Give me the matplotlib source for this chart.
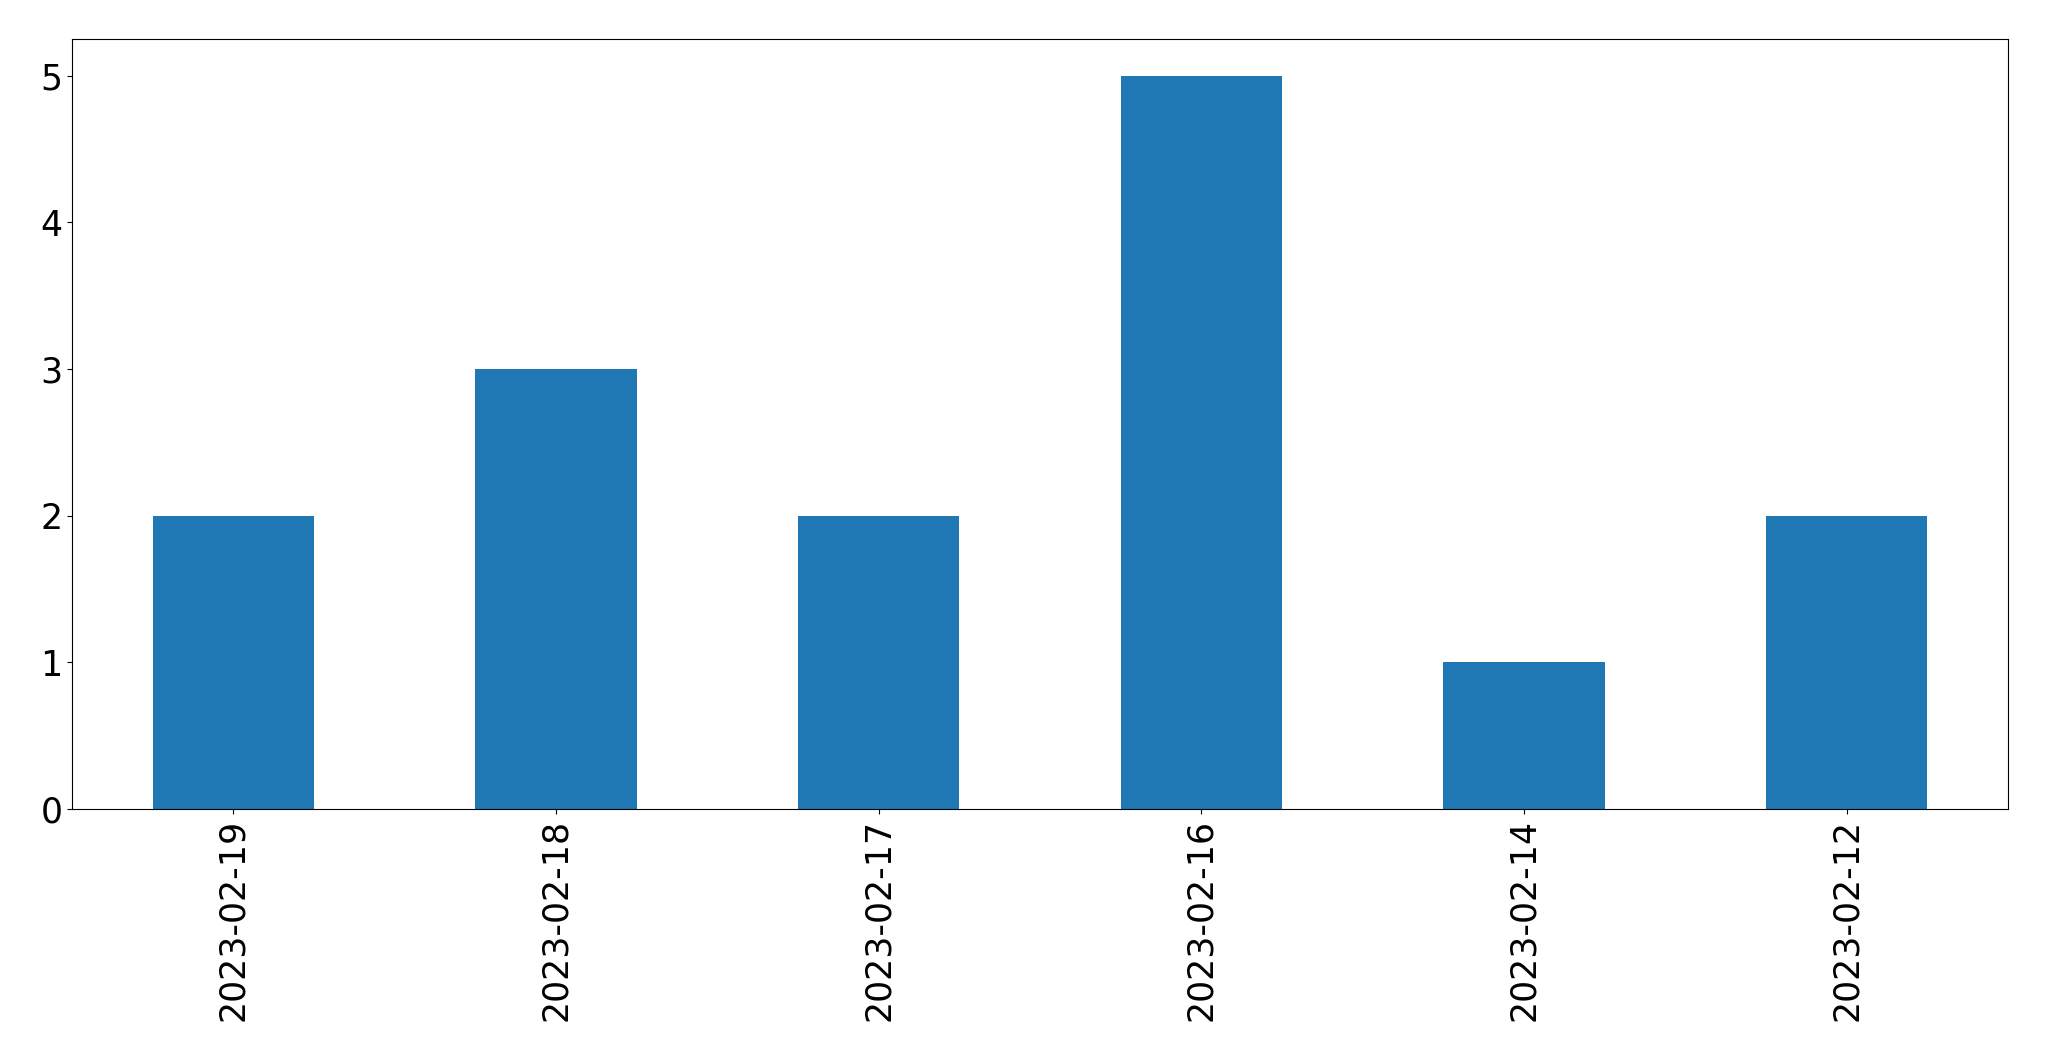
import pandas as pd
import matplotlib.pyplot as plt

dates = ['2023-02-19', '2023-02-18', '2023-02-17', '2023-02-16', '2023-02-14', '2023-02-12']
counts = [2, 3, 2, 5, 1, 2]

s = pd.Series(counts, index=dates)

fig, ax = plt.subplots(figsize=(20.49, 10.61), dpi=100)
s.plot(kind='bar', ax=ax, color='#1f77b4', fontsize=25)
ax.set_xlabel('')
ax.set_yticks(range(0, 6))

plt.subplots_adjust(left=72/2049, right=2008/2049, top=1-39/1061, bottom=1-809/1061)
plt.savefig('out.png', dpi=100)
